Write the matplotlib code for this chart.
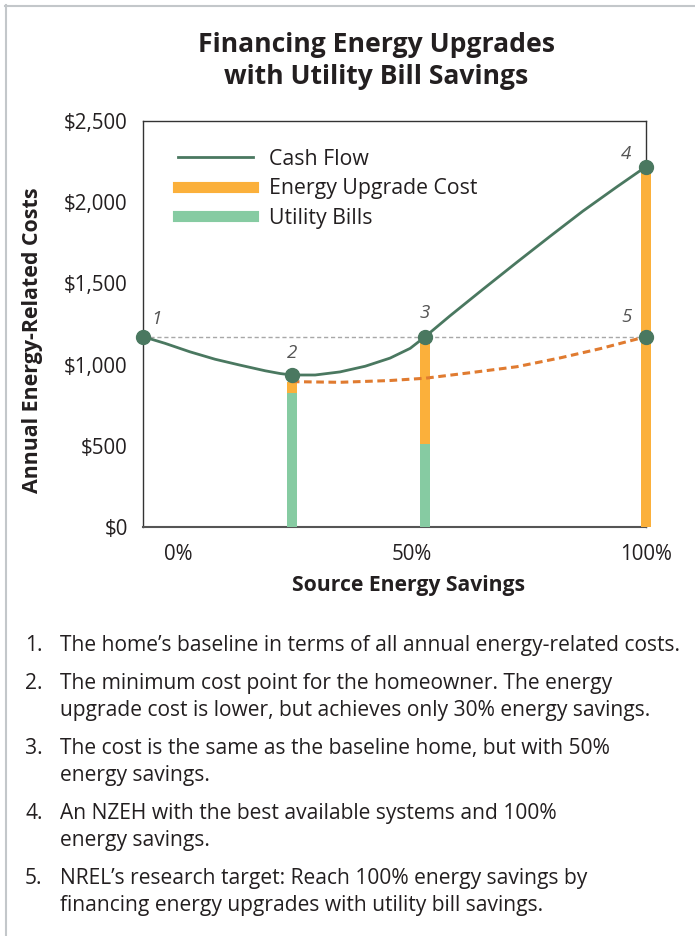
import matplotlib
matplotlib.use("Agg")
import matplotlib.pyplot as plt
from matplotlib.lines import Line2D

# data (x in % source energy savings, y in $/year)
cash_x = [-7.5, -2.8, 2.5, 7.9, 13.2, 18.6, 21.8, 24.3, 29.3, 34.6, 40.0, 45.3, 49.6,
          52.8, 58.1, 65.2, 72.4, 79.5, 86.5, 93.8, 100]
cash_y = [1172, 1131, 1079, 1033, 997, 962, 945, 936, 936, 955, 990, 1040, 1100,
          1172, 1300, 1465, 1630, 1790, 1945, 2095, 2219]

target_x = [24.3, 34.6, 45.3, 52.8, 62.4, 72.4, 81.6, 90.2, 100]
target_y = [895, 891, 902, 916, 950, 987, 1041, 1098, 1172]

bar_x = [24.3, 52.8, 100]
utility_bills = [823, 511, 0]
upgrade_cost = [72, 661, 2219]

point_x = [-7.5, 24.3, 52.8, 100, 100]
point_y = [1172, 936, 1172, 2219, 1172]
point_labels = ["1", "2", "3", "4", "5"]
label_offsets = [(10, 13), (0, 16), (0, 17), (-14, 9), (-14, 14)]

baseline = 1172
y_ticks = [0, 500, 1000, 1500, 2000, 2500]
x_ticks = [0, 50, 100]

notes = [
    ("1.", ["The home\u2019s baseline in terms of all annual energy-related costs."]),
    ("2.", ["The minimum cost point for the homeowner. The energy",
            "upgrade cost is lower, but achieves only 30% energy savings."]),
    ("3.", ["The cost is the same as the baseline home, but with 50%",
            "energy savings."]),
    ("4.", ["An NZEH with the best available systems and 100%",
            "energy savings."]),
    ("5.", ["NREL\u2019s research target: Reach 100% energy savings by",
            "financing energy upgrades with utility bill savings."]),
]

DARK_GREEN = "#4a7860"
ORANGE = "#fbb03b"
LIGHT_GREEN = "#86cba2"
DASH_ORANGE = "#e07b30"
TEXT = "#231f20"

plt.rcParams["font.family"] = ["Open Sans", "DejaVu Sans"]

W, H = 695, 936
fig = plt.figure(figsize=(W / 100, H / 100), dpi=100)

# axes box in pixels: left 143, right 646, top 121, bottom 527
ax = fig.add_axes([143 / W, 1 - 527 / H, (646 - 143) / W, (527 - 121) / H])
ax.set_xlim(-7.5, 100)
ax.set_ylim(0, 2500)

ax.axhline(baseline, color="#a8a8a8", lw=1, ls=(0, (3, 2)), zorder=1)

bw = 2.2
ax.bar(bar_x, utility_bills, width=bw, color=LIGHT_GREEN, zorder=3, clip_on=False)
ax.bar(bar_x, upgrade_cost, width=bw, bottom=utility_bills, color=ORANGE,
       zorder=3, clip_on=False)

ax.plot(target_x, target_y, color=DASH_ORANGE, lw=2.2, ls=(0, (2.5, 1.5)), zorder=4)
ax.plot(cash_x, cash_y, color=DARK_GREEN, lw=2, zorder=5, clip_on=False)
ax.plot(point_x, point_y, "o", color=DARK_GREEN, ms=10, zorder=6, clip_on=False)

for px, py, lab, off in zip(point_x, point_y, point_labels, label_offsets):
    ax.annotate(lab, (px, py), xytext=off, textcoords="offset points",
                ha="center", va="center", fontsize=13.5, style="italic",
                color="#555555")

ax.set_yticks(y_ticks)
ax.set_yticklabels(["${:,}".format(v) for v in y_ticks])
ax.set_xticks(x_ticks)
ax.set_xticklabels(["{}%".format(v) for v in x_ticks])
ax.tick_params(length=0, labelsize=14.8, colors=TEXT)
ax.tick_params(axis="y", pad=11)
ax.tick_params(axis="x", pad=12)
for side in ["left", "bottom", "top", "right"]:
    ax.spines[side].set_color("#333333")
    ax.spines[side].set_linewidth(1)
ax.spines["bottom"].set_color("#555555")
ax.spines["bottom"].set_linewidth(1.5)

handles = [
    Line2D([], [], color=DARK_GREEN, lw=2),
    Line2D([], [], color=ORANGE, lw=8),
    Line2D([], [], color=LIGHT_GREEN, lw=8),
]
ax.legend(handles, ["Cash Flow", "Energy Upgrade Cost", "Utility Bills"],
          loc="upper left", bbox_to_anchor=(0.07, 0.932), frameon=False,
          fontsize=15.3, handlelength=3.5, handletextpad=0.75, labelspacing=0.4,
          borderpad=0, borderaxespad=0, labelcolor=TEXT)

fig.text(376 / W, 1 - 61 / H, "Financing Energy Upgrades\nwith Utility Bill Savings",
         ha="center", va="center", fontsize=19.1, fontweight="bold", color=TEXT,
         linespacing=1.25)
fig.text(408 / W, 1 - 585 / H, "Source Energy Savings", ha="center", va="center",
         fontsize=15.2, fontweight="bold", color=TEXT)
fig.text(33 / W, 1 - 340 / H, "Annual Energy-Related Costs", ha="center",
         va="center", rotation=90, fontsize=15.4, fontweight="bold", color=TEXT)

# numbered notes below the chart (positions are text baselines)
y = 651
for num, lines in notes:
    fig.text(25 / W, 1 - y / H, num, ha="left", va="baseline", fontsize=15.1, color=TEXT)
    for i, line in enumerate(lines):
        fig.text(60 / W, 1 - (y + 27 * i) / H, line, ha="left", va="baseline",
                 fontsize=15.1, color=TEXT)
    y += 27 * (len(lines) - 1) + 38

# light frame on the top and left edges
fig.add_artist(Line2D([5 / W, 1], [1 - 5.5 / H, 1 - 5.5 / H], color="#c3c7ca", lw=1.5))
fig.add_artist(Line2D([6 / W, 6 / W], [0, 1 - 5 / H], color="#c3c7ca", lw=1.5))

fig.savefig("out.png", dpi=100)
